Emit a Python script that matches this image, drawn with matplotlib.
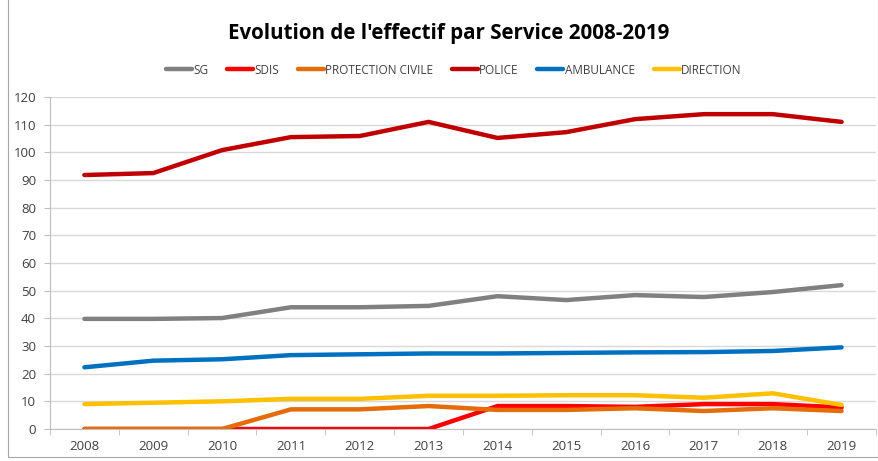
import numpy as np
import matplotlib
matplotlib.use("Agg")
import matplotlib.pyplot as plt
from matplotlib.patches import Rectangle

years = [str(y) for y in range(2008, 2020)]

sg = [39.8, 39.8, 40.1, 44.0, 44.0, 44.5, 48.0, 46.6, 48.4, 47.7, 49.5, 52.0]
sdis = [0, 0, 0, 0, 0, 0, 8.3, 8.3, 8.0, 9.0, 9.0, 7.8]
protection = [0, 0, 0, 7.1, 7.1, 8.3, 6.9, 6.9, 7.5, 6.5, 7.5, 6.5]
police = [91.8, 92.5, 100.8, 105.5, 105.9, 111.0, 105.2, 107.3, 112.0, 113.8, 113.8, 111.0]
ambulance = [22.3, 24.7, 25.2, 26.7, 27.0, 27.3, 27.3, 27.5, 27.7, 27.8, 28.2, 29.5]
direction = [9.0, 9.5, 10.0, 10.9, 10.9, 12.0, 12.0, 12.2, 12.2, 11.3, 12.9, 8.7]

series = [
    ("SG", sg, "#808080"),
    ("SDIS", sdis, "#ff0000"),
    ("PROTECTION CIVILE", protection, "#e46c0a"),
    ("POLICE", police, "#c00000"),
    ("AMBULANCE", ambulance, "#0070c0"),
    ("DIRECTION", direction, "#ffc000"),
]

fig = plt.figure(figsize=(8.79, 4.61), dpi=100)
fig.patches.append(Rectangle((8 / 879, 4 / 461), 870 / 879, 460 / 461,
                             transform=fig.transFigure, fill=False,
                             edgecolor="#a6a6a6", linewidth=0.8))

ax = fig.add_axes([50 / 879, 32 / 461, 826 / 879, 332 / 461])
x = np.arange(len(years))
for name, vals, col in series:
    ax.plot(x, vals, color=col, linewidth=3.2, label=name, solid_capstyle="round")

ax.set_xlim(-0.5, len(years) - 0.5)
ax.set_ylim(0, 120)
ax.set_yticks(range(0, 121, 10))
ax.set_xticks(x)
ax.set_xticklabels(years)
ax.set_xticks(np.arange(-0.5, len(years), 1), minor=True)
ax.tick_params(axis="x", which="major", length=0, pad=8)
ax.tick_params(axis="x", which="minor", length=4, color="#bfbfbf")
ax.tick_params(axis="y", length=4, color="#bfbfbf", pad=6)
ax.tick_params(labelsize=9.5, labelcolor="#404040")
for lab in ax.get_xticklabels() + ax.get_yticklabels():
    lab.set_fontfamily("Open Sans")

ax.grid(axis="y", color="#d9d9d9", linewidth=1)
ax.set_axisbelow(True)
for s in ["top", "right"]:
    ax.spines[s].set_visible(False)
ax.spines["left"].set_color("#bfbfbf")
ax.spines["bottom"].set_color("#bfbfbf")

fig.text(0.510, 0.928, "Evolution de l'effectif par Service 2008-2019",
         ha="center", va="center", fontsize=14.8, fontweight="bold",
         family="Open Sans", color="#000000")

leg = fig.legend(loc="center", bbox_to_anchor=(0.516, 0.848), ncol=6,
                 frameon=False, handlelength=2.2, handletextpad=0.1,
                 columnspacing=1.6, prop={"family": "Open Sans", "size": 8.5})
for t in leg.get_texts():
    t.set_color("#404040")

fig.savefig("out.png", dpi=100)
